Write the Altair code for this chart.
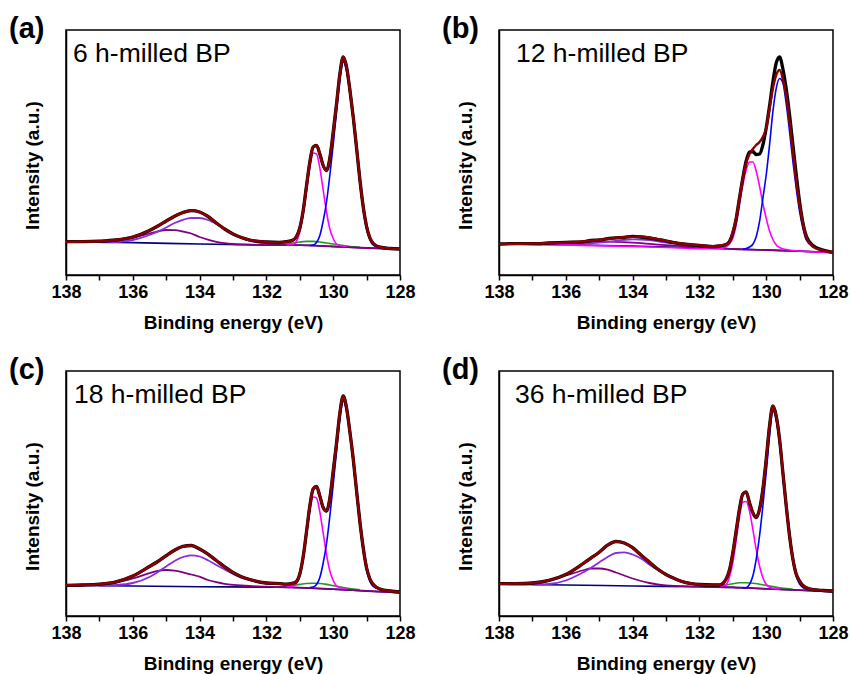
import altair as alt
import pandas as pd

FONT = "Liberation Sans"

# ---------------------------------------------------------------------------
# Binding-energy grids (eV)
# ---------------------------------------------------------------------------
E_FULL = [138.0, 137.5, 137.0, 136.5, 136.0, 135.5, 135.25, 135.0, 134.75, 134.5,
          134.25, 134.0, 133.75, 133.5, 133.25, 133.0, 132.75, 132.5, 132.0, 131.6,
          131.4, 131.2, 131.1, 131.0, 130.9, 130.8, 130.7, 130.6, 130.5, 130.4,
          130.3, 130.2, 130.1, 130.0, 129.9, 129.8, 129.7, 129.6, 129.5, 129.4,
          129.3, 129.2, 129.1, 129.0, 128.9, 128.8, 128.6, 128.3, 128.0]
E_BROAD = [137.0, 136.5, 136.0, 135.5, 135.25, 135.0, 134.75, 134.5, 134.25, 134.0,
           133.75, 133.5, 133.25, 133.0, 132.75, 132.5, 132.0]
E_OX_HI = [137.0, 136.5, 136.0, 135.5, 135.25, 135.0, 134.75, 134.5, 134.25, 134.0,
           133.75, 133.5, 133.25, 133.0, 132.75, 132.5, 132.0, 131.0, 130.0, 129.0, 128.0]
E_P32 = [130.7, 130.6, 130.5, 130.4, 130.3, 130.2, 130.1, 130.0, 129.9, 129.8,
         129.7, 129.6, 129.5, 129.4, 129.3, 129.2, 129.1, 129.0, 128.9, 128.8,
         128.6, 128.3]
E_P12 = [131.4, 131.2, 131.1, 131.0, 130.9, 130.8, 130.7, 130.6, 130.5, 130.4,
         130.3, 130.2, 130.1, 130.0, 129.9, 129.8, 129.6]
E_P12_B = [137.5, 136.5, 135.5, 134.5, 133.5, 132.5, 131.8, 131.4, 131.2, 131.1,
           131.0, 130.9, 130.8, 130.7, 130.6, 130.5, 130.4, 130.3, 130.2, 130.1,
           130.0, 129.9, 129.8, 129.7, 129.6, 129.4, 129.0, 128.5, 128.0]
E_MINOR = [131.8, 131.4, 131.2, 131.0, 130.8, 130.6, 130.4, 130.2, 130.0, 129.8,
           129.6, 129.4, 129.2]
E_BG = [138.0, 136.0, 134.0, 132.0, 131.0, 130.0, 129.0, 128.0]

# ---------------------------------------------------------------------------
# (a) 6 h-milled BP
# ---------------------------------------------------------------------------
A_FIT = [33.3, 33.4, 33.8, 35.0, 38.0, 44.5, 49.0, 54.0, 58.8, 62.5,
         64.4, 63.0, 58.5, 52.0, 46.0, 41.0, 37.5, 35.0, 33.0, 32.5,
         33.3, 35.0, 38.5, 47.0, 64.0, 89.0, 113.0, 128.0, 129.5, 121.0,
         109.5, 104.5, 117.0, 143.0, 171.0, 201.0, 218.0, 208.0, 185.0, 158.0,
         127.0, 95.0, 68.0, 48.5, 37.0, 31.5, 27.8, 26.5, 26.0]
A_OX_LO = [32.6, 33.0, 35.0, 40.0, 43.5, 47.5, 52.0, 55.2, 57.0, 57.0,
           55.0, 51.0, 46.0, 41.0, 37.0, 34.2, 31.5]
A_OX_HI = [32.8, 34.2, 37.0, 41.5, 43.5, 45.0, 44.8, 43.5, 41.5, 38.0,
           35.3, 33.2, 31.8, 31.0, 30.6, 30.3, 30.0, 29.8, 28.5, 27.0, 26.0]
A_P32 = [29.5, 30.0, 32.5, 39.5, 54.0, 73.0, 100.0, 130.0, 163.5, 195.0,
         213.0, 204.0, 182.0, 155.0, 124.0, 92.0, 65.5, 46.0, 35.0, 30.0,
         27.5, 26.5]
A_P12 = [30.0, 30.5, 33.5, 43.0, 61.0, 84.0, 107.0, 122.0, 121.0, 107.0,
         85.0, 63.0, 46.0, 36.5, 31.0, 29.5, 28.5]
A_MINOR = [30.2, 31.0, 32.0, 33.0, 33.6, 33.6, 33.0, 32.0, 31.0, 30.0, 29.0, 28.2, 27.6]
A_BG = [33.3, 32.4, 31.0, 30.0, 29.8, 28.5, 27.0, 26.0]

# ---------------------------------------------------------------------------
# (b) 12 h-milled BP
# ---------------------------------------------------------------------------
B_DATA = [31.0, 31.4, 31.3, 32.0, 32.6, 33.2, 34.5, 35.0, 36.3, 37.2,
          37.5, 38.6, 38.0, 37.0, 35.5, 34.0, 32.3, 31.0, 29.5, 28.3,
          29.0, 30.5, 33.5, 42.0, 56.0, 77.0, 97.0, 114.0, 123.0, 123.5,
          120.5, 121.0, 130.0, 147.0, 169.0, 193.0, 212.0, 218.0, 206.0, 186.0,
          160.0, 130.0, 100.0, 73.0, 52.0, 39.0, 29.5, 25.0, 22.7]
B_FIT = [31.0, 31.2, 31.5, 31.9, 32.4, 33.4, 34.2, 35.1, 36.0, 37.0,
         37.8, 38.3, 38.2, 37.4, 35.8, 34.2, 32.6, 31.3, 29.8, 28.8,
         29.2, 30.8, 33.3, 43.0, 56.7, 76.7, 96.7, 111.7, 121.0, 126.0,
         130.0, 133.0, 138.0, 146.7, 166.7, 186.7, 200.0, 205.0, 196.0, 179.0,
         153.3, 123.3, 93.3, 70.0, 51.7, 38.3, 28.3, 24.5, 22.7]
B_OX_LO = [31.0, 30.9, 30.8, 31.2, 31.7, 32.3, 33.2, 34.2, 35.1, 35.6,
           35.5, 34.8, 33.6, 32.4, 31.3, 30.4, 29.2]
B_OX_HI = [31.2, 31.6, 32.0, 32.7, 33.0, 33.2, 33.3, 33.2, 32.9, 32.4,
           31.8, 31.1, 30.4, 29.8, 29.3, 28.9, 28.3, 26.0, 25.0, 23.8, 22.5]
B_P32 = [26.0, 26.5, 28.0, 30.7, 38.3, 53.3, 76.7, 100.0, 130.0, 163.3,
         186.7, 196.5, 192.0, 171.0, 143.3, 113.3, 86.7, 63.3, 46.7, 35.0,
         28.3, 24.5]
B_P12 = [31.0, 30.3, 29.6, 28.9, 28.0, 27.0, 26.2, 26.4, 28.3, 31.0,
         36.7, 50.0, 70.0, 90.0, 105.0, 113.0, 113.0, 104.0, 89.0, 71.5,
         56.7, 44.0, 35.5, 30.0, 27.5, 25.5, 24.0, 23.0, 22.5]
B_BG = [31.0, 30.2, 29.0, 27.0, 26.0, 25.0, 23.8, 22.5]

# ---------------------------------------------------------------------------
# (c) 18 h-milled BP
# ---------------------------------------------------------------------------
C_FIT = [30.7, 31.0, 31.8, 34.2, 40.0, 49.5, 54.5, 60.3, 65.8, 69.6,
         70.5, 67.0, 61.8, 55.5, 49.2, 43.5, 39.3, 36.5, 33.0, 32.3,
         31.8, 32.8, 34.5, 42.0, 59.0, 84.0, 110.0, 127.0, 129.5, 120.0,
         108.5, 105.0, 118.0, 145.0, 173.0, 203.0, 220.0, 208.0, 184.0, 157.0,
         125.0, 94.0, 68.0, 48.0, 37.0, 31.5, 27.0, 25.0, 24.0]
C_OX_LO = [30.5, 31.0, 33.0, 39.0, 44.0, 49.5, 55.0, 59.0, 60.7, 59.5,
           55.8, 51.0, 46.5, 42.0, 38.3, 35.8, 32.5]
C_OX_HI = [31.0, 33.3, 37.5, 42.8, 45.2, 46.0, 45.3, 43.6, 41.5, 39.3,
           36.0, 33.8, 32.2, 31.2, 30.5, 30.0, 29.3, 28.3, 26.8, 25.0, 23.3]
C_P32 = [28.5, 29.0, 31.5, 38.5, 53.0, 72.5, 100.0, 131.0, 165.0, 197.0,
         215.0, 205.0, 182.0, 154.0, 122.0, 91.0, 65.0, 46.0, 34.5, 29.5,
         26.5, 24.8]
C_P12 = [29.5, 29.8, 32.5, 41.5, 59.5, 82.0, 104.5, 119.0, 118.0, 104.0,
         83.0, 61.5, 45.0, 35.5, 30.0, 28.3, 27.3]
C_MINOR = [29.0, 29.5, 30.5, 31.6, 32.5, 32.8, 32.5, 31.6, 30.4, 29.2, 28.0, 27.0, 26.2]
C_BG = [30.7, 30.0, 29.3, 28.8, 28.3, 26.8, 25.0, 23.3]

# ---------------------------------------------------------------------------
# (d) 36 h-milled BP
# ---------------------------------------------------------------------------
D_FIT = [32.3, 32.4, 33.0, 35.6, 41.5, 52.0, 57.8, 63.8, 70.8, 74.5,
         73.0, 68.3, 61.0, 54.0, 47.0, 41.5, 37.5, 34.2, 31.5, 31.0,
         31.0, 37.0, 46.0, 63.0, 85.0, 107.0, 122.0, 124.0, 113.3, 103.3,
         98.5, 106.7, 126.7, 156.7, 190.0, 210.0, 200.0, 176.7, 143.3, 110.0,
         80.0, 56.7, 41.7, 35.0, 30.5, 28.3, 26.3, 25.5, 25.0]
D_OX_LO = [31.3, 32.0, 35.5, 43.3, 48.0, 53.5, 59.0, 63.0, 63.6, 61.5,
           57.5, 51.5, 46.0, 41.0, 37.2, 34.5, 31.3]
D_OX_HI = [32.6, 35.5, 40.6, 45.5, 47.5, 47.5, 46.3, 43.5, 40.5, 37.5,
           35.0, 33.0, 31.5, 30.6, 30.1, 29.8, 29.3, 28.6, 27.2, 25.8, 24.3]
D_P32 = [27.8, 28.3, 31.7, 40.0, 56.7, 80.0, 110.0, 143.3, 180.0, 205.0,
         196.0, 173.0, 140.0, 107.0, 78.0, 55.0, 40.0, 32.0, 28.5, 27.0,
         25.8, 25.0]
D_P12 = [29.5, 31.5, 39.0, 53.5, 75.0, 99.0, 114.0, 114.5, 105.0, 86.7,
         66.7, 50.0, 38.3, 31.7, 28.8, 27.8, 27.0]
D_MINOR = [29.0, 29.8, 31.0, 32.3, 33.2, 33.3, 32.8, 31.8, 30.6, 29.4, 28.3, 27.4, 26.8]
D_BG = [31.7, 31.0, 30.0, 29.2, 28.6, 27.2, 25.8, 24.3]

PANELS = [
    {"tag": "(a)", "sample": "6 h-milled BP", "dx": 7,
     "curves": {"background": (E_BG, A_BG), "minor": (E_MINOR, A_MINOR),
                "oxide_hi": (E_OX_HI, A_OX_HI), "oxide_lo": (E_BROAD, A_OX_LO),
                "p2p12": (E_P12, A_P12), "p2p32": (E_P32, A_P32),
                "data": (E_FULL, A_FIT), "fit": (E_FULL, A_FIT)}},
    {"tag": "(b)", "sample": "12 h-milled BP", "dx": 17,
     "curves": {"background": (E_BG, B_BG),
                "oxide_hi": (E_OX_HI, B_OX_HI), "oxide_lo": (E_BROAD, B_OX_LO),
                "p2p12": (E_P12_B, B_P12), "p2p32": (E_P32, B_P32),
                "data": (E_FULL, B_DATA), "fit": (E_FULL, B_FIT)}},
    {"tag": "(c)", "sample": "18 h-milled BP", "dx": 8,
     "curves": {"background": (E_BG, C_BG), "minor": (E_MINOR, C_MINOR),
                "oxide_hi": (E_OX_HI, C_OX_HI), "oxide_lo": (E_BROAD, C_OX_LO),
                "p2p12": (E_P12, C_P12), "p2p32": (E_P32, C_P32),
                "data": (E_FULL, C_FIT), "fit": (E_FULL, C_FIT)}},
    {"tag": "(d)", "sample": "36 h-milled BP", "dx": 16,
     "curves": {"background": (E_BG, D_BG), "minor": (E_MINOR, D_MINOR),
                "oxide_hi": (E_OX_HI, D_OX_HI), "oxide_lo": (E_BROAD, D_OX_LO),
                "p2p12": (E_P12, D_P12), "p2p32": (E_P32, D_P32),
                "data": (E_FULL, D_FIT), "fit": (E_FULL, D_FIT)}},
]

# drawing order, bottom to top: (curve, colour, stroke width)
STYLES = [
    ("background", "#000080", 1.6),
    ("minor", "#1F9A1F", 1.6),
    ("oxide_hi", "#800080", 1.8),
    ("oxide_lo", "#8A2BE2", 1.8),
    ("p2p12", "#FF00FF", 1.6),
    ("p2p32", "#0000FF", 1.6),
    ("data", "#000000", 3.3),
    ("fit", "#8B0000", 2.5),
]

TICKS = list(range(128, 139))
PANEL_W, PANEL_H = 334, 245


def make_panel(spec):
    rows = []
    for name, (energies, values) in spec["curves"].items():
        for e, v in zip(energies, values):
            rows.append({"curve": name, "energy": e, "intensity": v})
    df = pd.DataFrame(rows)

    x = alt.X(
        "energy:Q",
        scale=alt.Scale(domain=[128, 138], reverse=True, nice=False, zero=False),
        axis=alt.Axis(
            title="Binding energy (eV)", values=TICKS,
            labelExpr="datum.value % 2 === 0 ? datum.label : ''",
            labelFontSize=18, labelFontWeight="bold", labelFlush=False,
            labelOverlap=False, labelPadding=3, tickSize=5,
            titleFontSize=19, titleFontWeight="bold", titlePadding=12,
        ),
    )
    y = alt.Y(
        "intensity:Q",
        scale=alt.Scale(domain=[0, PANEL_H], nice=False, zero=False),
        axis=alt.Axis(
            title="Intensity (a.u.)", labels=False, ticks=False,
            titleFontSize=19, titleFontWeight="bold", titlePadding=24,
            titleY=135,
        ),
    )

    base = alt.Chart(df)
    layers = []
    for name, color, width in STYLES:
        if name not in spec["curves"]:
            continue
        layers.append(
            base.transform_filter(alt.datum.curve == name)
            .mark_line(color=color, strokeWidth=width, interpolate="monotone")
            .encode(x=x, y=y, order=alt.Order("energy:Q", sort="descending"))
        )

    tag = alt.Chart(pd.DataFrame({"text": [spec["tag"]]})).mark_text(
        font=FONT, fontSize=29, fontWeight="bold", align="left",
        baseline="alphabetic", color="black",
    ).encode(x=alt.value(-57), y=alt.value(8), text="text:N")

    sample = alt.Chart(pd.DataFrame({"text": [spec["sample"]]})).mark_text(
        font=FONT, fontSize=26.5, align="left", baseline="alphabetic", color="black",
    ).encode(x=alt.value(spec["dx"]), y=alt.value(32), text="text:N")

    return alt.layer(*layers, tag, sample).properties(width=PANEL_W, height=PANEL_H)


panels = [make_panel(s) for s in PANELS]

chart = (
    alt.concat(*panels, columns=2, spacing={"row": 96, "column": 99}, bounds="flush")
    .properties(padding={"left": 8, "top": 14, "right": 0, "bottom": 2},
                background="white")
    .configure_view(stroke="black", strokeWidth=1.5)
    .configure_axis(
        labelFont=FONT, titleFont=FONT, labelColor="black", titleColor="black",
        domainColor="black", domainWidth=1.5, tickColor="black", tickWidth=1.5,
        grid=False,
    )
)

chart.save("out.html", embed_options={"renderer": "svg", "actions": False})
